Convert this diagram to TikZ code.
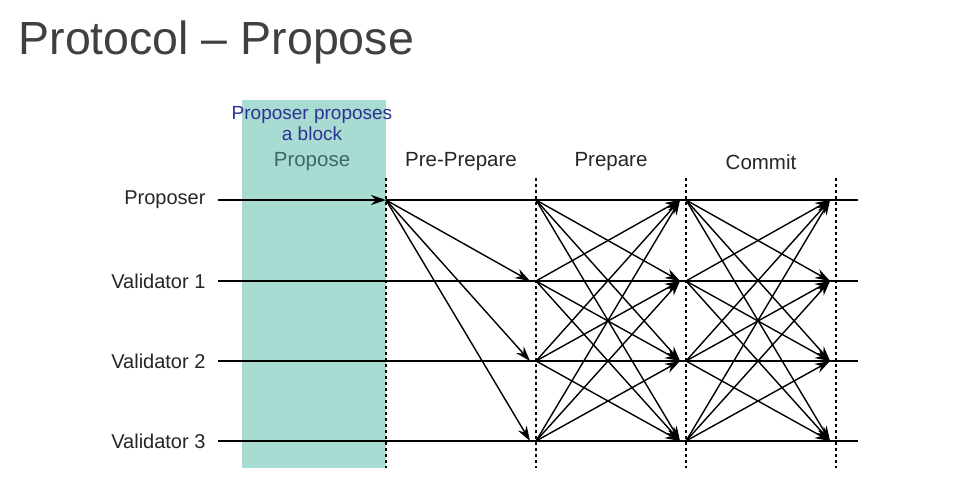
\documentclass[tikz,border=0pt]{standalone}
\usepackage{fontspec}
\setmainfont{Liberation Sans}
\usetikzlibrary{arrows.meta}
\definecolor{propcol}{HTML}{A8DCD2}
\definecolor{titlegray}{HTML}{404040}
\definecolor{blu}{HTML}{2E3192}
\definecolor{tealtxt}{HTML}{3A6B62}
\begin{document}
\begin{tikzpicture}[x=1pt,y=-1pt,
  lbl/.style={anchor=east,font=\fontsize{20}{22}\selectfont,text=black!85},
  ph/.style={font=\fontsize{20.5}{22}\selectfont,text=black!85},
  msg/.style={-{Stealth[length=15pt,width=10pt]},line width=1.4pt},
  tl/.style={line width=1.5pt},
  dsh/.style={dashed,line width=1.2pt}]
\useasboundingbox (0,0) rectangle (960,484);
\fill[white] (0,0) rectangle (960,484);
\node[anchor=west,font=\fontsize{46.5}{50}\selectfont,text=titlegray] (title) at (15,42) {Protocol – Propose};
\fill[propcol] (242,100) rectangle (386,468);
\node[font=\fontsize{19}{21}\selectfont,text=blu,align=center] (note) at (312,124) {Proposer proposes\\a block};
\node[ph,text=tealtxt] (p0) at (312,162) {Propose};
\node[ph] (p1) at (461,162) {Pre-Prepare};
\node[ph] (p2) at (611,162) {Prepare};
\node[ph] (p3) at (761,162) {Commit};
\foreach \n/\y/\t in {0/200/Proposer,1/281/Validator 1,2/361/Validator 2,3/441/Validator 3}{
  \node[lbl] (L\n) at (209,\y) {\t};
  \coordinate (s\n) at (218,\y);
  \coordinate (e\n) at (858,\y);
  \coordinate (a\n) at (386,\y);
  \coordinate (b\n) at (536,\y);
  \coordinate (c\n) at (686,\y);
  \coordinate (d\n) at (836,\y);
  \coordinate (bb\n) at (530,\y);
  \coordinate (cc\n) at (680,\y);
  \coordinate (dd\n) at (830,\y);
}
\draw[tl] (a0) -- (e0);
\foreach \n in {1,2,3} \draw[tl] (s\n) -- (e\n);
\draw[msg] (s0) -- (a0);
\foreach \x in {386,536,686,836} \draw[dsh] (\x,178) -- (\x,468);
\foreach \n in {1,2,3} \draw[msg] (a0) -- (bb\n);
\foreach \i in {0,1,2,3}{\foreach \j in {0,1,2,3}{
  \ifnum\i=\j\else
  \draw[msg] (b\i) -- (cc\j);
  \draw[msg] (c\i) -- (dd\j);
  \fi}}
\end{tikzpicture}
\end{document}
